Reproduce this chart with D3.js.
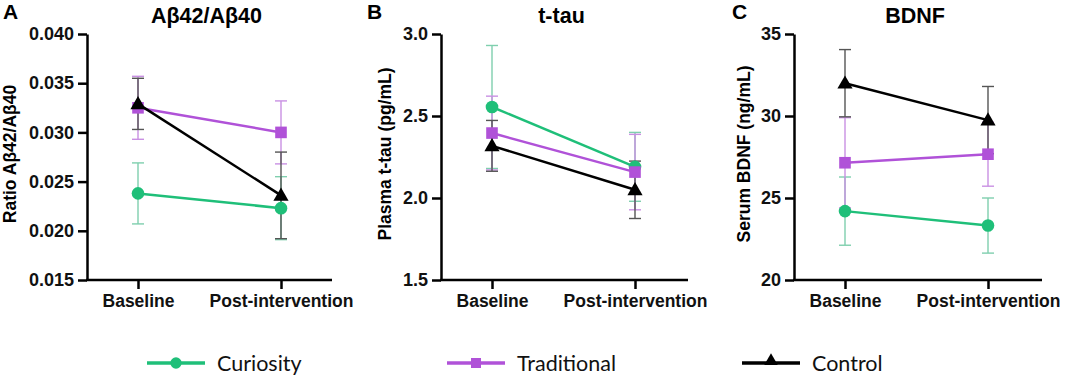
<!DOCTYPE html>
<html>
<head>
<meta charset="utf-8">
<script src="https://cdn.jsdelivr.net/npm/d3@7"></script>
<style>
  body { margin: 0; background: #fff; }
  svg { display: block; }
</style>
</head>
<body>
<svg id="chart" width="1065" height="376"></svg>
<script>
// time points and groups
const timepoints = ["Baseline", "Post-intervention"];
const groups = ["Curiosity", "Traditional", "Control"];

// means [baseline, post] and error bars (SD)
const abMeans = { Curiosity: [0.0238, 0.0223], Traditional: [0.0325, 0.0300], Control: [0.0329, 0.0236] };
const abErr   = { Curiosity: [0.0031, 0.0032], Traditional: [0.0032, 0.0032], Control: [0.0026, 0.0044] };
const tauMeans = { Curiosity: [2.555, 2.19], Traditional: [2.396, 2.158], Control: [2.318, 2.05] };
const tauErr   = { Curiosity: [0.375, 0.21], Traditional: [0.225, 0.23], Control: [0.155, 0.175] };
const bdnfMeans = { Curiosity: [24.2, 23.32], Traditional: [27.15, 27.67], Control: [32.0, 29.75] };
const bdnfErr   = { Curiosity: [2.08, 1.68], Traditional: [2.75, 1.95], Control: [2.05, 2.05] };

const abTicks = [0.015, 0.020, 0.025, 0.030, 0.035, 0.040];
const tauTicks = [1.5, 2.0, 2.5, 3.0];
const bdnfTicks = [20, 25, 30, 35];

const color = { Curiosity: "#1fbf79", Traditional: "#b052d8", Control: "#000000" };
const errColor = { Curiosity: "#7fcfae", Traditional: "#c990e3", Control: "#555555" };
const symbols = { Curiosity: d3.symbolCircle, Traditional: d3.symbolSquare, Control: d3.symbolTriangle };
const symSize = { Curiosity: 125, Traditional: 135, Control: 100 };

const svg = d3.select("#chart");
const axisFont = "'Liberation Sans', Arial, sans-serif";

const panels = [
  { letter: "A", title: "Aβ42/Aβ40", ylab: "Ratio Aβ42/Aβ40", means: abMeans, err: abErr, ticks: abTicks,
    fmt: d3.format(".3f"), x0: 87, x1: 332, ylabX: 10, letterX: 3 },
  { letter: "B", title: "t-tau", ylab: "Plasma t-tau (pg/mL)", means: tauMeans, err: tauErr, ticks: tauTicks,
    fmt: d3.format(".1f"), x0: 441, x1: 688, ylabX: 385, letterX: 367 },
  { letter: "C", title: "BDNF", ylab: "Serum BDNF (ng/mL)", means: bdnfMeans, err: bdnfErr, ticks: bdnfTicks,
    fmt: d3.format("d"), x0: 794, x1: 1042, ylabX: 744, letterX: 732 }
];

const yTop = 34, yBottom = 280;

panels.forEach(p => {
  const g = svg.append("g");

  const y = d3.scaleLinear()
    .domain([p.ticks[0], p.ticks[p.ticks.length - 1]])
    .range([yBottom, yTop]);
  const x = d3.scalePoint()
    .domain(timepoints)
    .range([p.x0 + 51, p.x0 + 194]);

  // y axis
  const ya = g.append("g")
    .attr("transform", `translate(${p.x0},0)`)
    .call(d3.axisLeft(y).tickValues(p.ticks).tickFormat(p.fmt).tickSize(9).tickPadding(4).tickSizeOuter(0));
  ya.select(".domain").attr("stroke-width", 2.5);
  ya.selectAll(".tick line").attr("stroke-width", 2.5);
  ya.selectAll("text").style("font-family", axisFont).style("font-size", "18px")
    .style("font-weight", "bold").attr("fill", "#111");

  // x axis
  const xa = g.append("g")
    .attr("transform", `translate(0,${yBottom})`);
  xa.append("line").attr("x1", p.x0 - 1).attr("x2", p.x1).attr("y1", 0).attr("y2", 0)
    .attr("stroke", "#000").attr("stroke-width", 2.5);
  xa.call(d3.axisBottom(x).tickSize(9).tickPadding(6).tickSizeOuter(0))
    .select(".domain").remove();
  xa.selectAll(".tick line").attr("stroke-width", 2.5);
  xa.selectAll("text").style("font-family", axisFont).style("font-size", "17.5px")
    .style("font-weight", "bold").attr("fill", "#111");

  // titles & labels
  g.append("text").attr("x", (p.x0 + p.x1) / 2 - 3).attr("y", 23)
    .attr("text-anchor", "middle").style("font-family", axisFont)
    .style("font-size", "21.5px").style("font-weight", "bold").text(p.title);
  g.append("text").attr("x", p.letterX).attr("y", 19)
    .style("font-family", axisFont).style("font-size", "21px").style("font-weight", "bold").text(p.letter);
  g.append("text")
    .attr("transform", `translate(${p.ylabX + 6},${(yTop + yBottom) / 2 - 3}) rotate(-90)`)
    .attr("text-anchor", "middle").style("font-family", axisFont)
    .style("font-size", "17.5px").style("font-weight", "bold").text(p.ylab);

  // error bars
  groups.forEach(grp => {
    timepoints.forEach((t, i) => {
      const m = p.means[grp][i], e = p.err[grp][i];
      const cx = x(t);
      const eg = g.append("g").attr("stroke", errColor[grp]).attr("stroke-width", 1.4);
      eg.append("line").attr("x1", cx).attr("x2", cx).attr("y1", y(m + e)).attr("y2", y(m - e));
      [m + e, m - e].forEach(v => {
        eg.append("line").attr("x1", cx - 6).attr("x2", cx + 6).attr("y1", y(v)).attr("y2", y(v));
      });
    });
  });

  // lines and markers
  groups.forEach(grp => {
    const pts = timepoints.map((t, i) => [x(t), y(p.means[grp][i])]);
    g.append("path").attr("d", d3.line()(pts)).attr("fill", "none")
      .attr("stroke", color[grp]).attr("stroke-width", 2.5);
    g.selectAll(null).data(pts).enter().append("path")
      .attr("d", d3.symbol().type(symbols[grp]).size(symSize[grp]))
      .attr("transform", d => `translate(${d[0]},${d[1] + (grp === "Control" ? 1 : 0)})`)
      .attr("fill", color[grp]);
  });
});

// legend
const legendX = [147, 447, 742];
const legend = svg.append("g").attr("transform", "translate(0,363)");
groups.forEach((grp, i) => {
  const lx = legendX[i];
  legend.append("line").attr("x1", lx).attr("x2", lx + 58).attr("y1", 0).attr("y2", 0)
    .attr("stroke", color[grp]).attr("stroke-width", 3.5);
  legend.append("path")
    .attr("d", d3.symbol().type(symbols[grp]).size(grp === "Control" ? 80 : 100))
    .attr("transform", `translate(${lx + 29},${grp === "Control" ? -2 : 0})`)
    .attr("fill", color[grp]);
  legend.append("text").attr("x", lx + 70).attr("y", 0).attr("dy", "0.35em")
    .style("font-family", "Lato, 'Open Sans', sans-serif").style("font-size", "21.5px")
    .attr("fill", "#111").text(grp);
});
</script>
</body>
</html>
